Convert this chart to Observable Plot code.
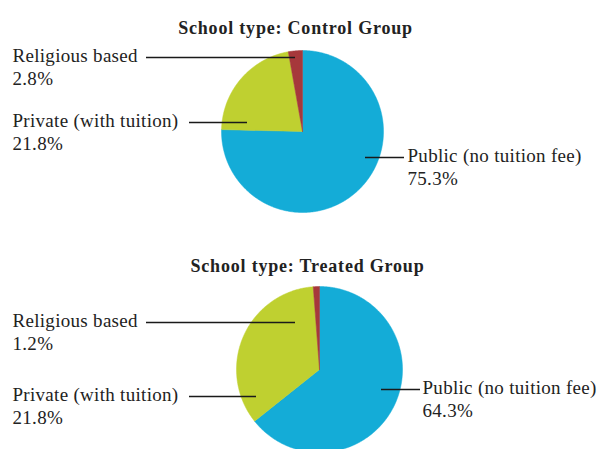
<!DOCTYPE html>
<html>
<head>
<meta charset="utf-8">
<script src="https://cdn.jsdelivr.net/npm/d3@7"></script>
<script src="https://cdn.jsdelivr.net/npm/@observablehq/plot@0.6"></script>
<style>
  html, body { margin: 0; padding: 0; background: #fff; overflow: hidden; }
  svg { display: block; }
</style>
</head>
<body>
<div id="chart"></div>
<script>
// ---- data ----
const categories = ["Public (no tuition fee)", "Private (with tuition)", "Religious based"];
const colors = ["#14acd7", "#bfd030", "#a6383b"];
const controlValues = [75.3, 21.8, 2.8];
const treatedValues = [64.3, 34.5, 1.2];            // slice sizes as drawn
const controlLabels = ["75.3%", "21.8%", "2.8%"];
const treatedLabels = ["64.3%", "21.8%", "1.2%"];   // labels as printed in the source
const titles = ["School type: Control Group", "School type: Treated Group"];

// ---- layout ----
const W = 598, H = 449;
const pies = [
  {title: titles[0], values: controlValues, labels: controlLabels, cx: 302, cy: 131, r: 81, tx: 295, ty: 28,
   ann: [
     {i: 0, tx: 407, ty: 157, x1: 365, x2: 404},
     {i: 1, tx: 12, ty: 122, x1: 189, x2: 247},
     {i: 2, tx: 12, ty: 57, x1: 146, x2: 295}
   ]},
  {title: titles[1], values: treatedValues, labels: treatedLabels, cx: 319, cy: 369, r: 83, tx: 307, ty: 266,
   ann: [
     {i: 0, tx: 422, ty: 389, x1: 381, x2: 420},
     {i: 1, tx: 12, ty: 396, x1: 189, x2: 256},
     {i: 2, tx: 12, ty: 322, x1: 146, x2: 295}
   ]}
];

const slicePts = [];
const annText = [];
const annRules = [];
const titleRows = [];
pies.forEach((p, pi) => {
  const arcs = d3.pie().sort(null).value(d => d)(p.values);
  arcs.forEach((a, i) => {
    const key = pi + "-" + i;
    slicePts.push({key, cat: categories[i], x: p.cx, y: p.cy});
    const n = Math.max(2, Math.ceil((a.endAngle - a.startAngle) / 0.01));
    for (let k = 0; k <= n; k++) {
      const t = a.startAngle + (a.endAngle - a.startAngle) * k / n;
      slicePts.push({key, cat: categories[i], x: p.cx + p.r * Math.sin(t), y: p.cy - p.r * Math.cos(t)});
    }
    slicePts.push({key, cat: categories[i], x: p.cx, y: p.cy});
  });
  p.ann.forEach(a => {
    annText.push({x: a.tx, y: a.ty, text: categories[a.i] + "\n" + p.labels[a.i]});
    annRules.push({x1: a.x1, x2: a.x2, y: a.ty});
  });
  titleRows.push({x: p.tx, y: p.ty, text: p.title});
});

const chart = Plot.plot({
  width: W, height: H,
  margin: 0,
  x: {domain: [0, W], range: [0, W], axis: null},
  y: {domain: [0, H], range: [0, H], axis: null},
  color: {domain: categories, range: colors},
  style: {fontFamily: "'Liberation Serif', serif", background: "#fff"},
  marks: [
    Plot.line(slicePts, {x: "x", y: "y", z: "key", fill: "cat", stroke: "cat", strokeWidth: 0.5, curve: "linear"}),
    Plot.ruleY(annRules, {x1: "x1", x2: "x2", y: "y", stroke: "#1a1a1a", strokeWidth: 1.3}),
    Plot.text(annText, {x: "x", y: "y", text: "text", textAnchor: "start", lineAnchor: "top", dy: -11, lineHeight: 1.18, fontSize: 19, fill: "#222"}),
    Plot.text(titleRows, {x: "x", y: "y", text: "text", textAnchor: "middle", fontSize: 18, fontWeight: "bold", fill: "#222"})
  ]
});
// letter spacing to approximate the wider book-style serif of the source
const textGroups = d3.select(chart).selectAll("g[aria-label='text']");
textGroups.each(function(_, gi) {
  d3.select(this).attr("letter-spacing", gi === 0 ? "0.3px" : "0.8px");
});
document.getElementById("chart").appendChild(chart);
</script>
</body>
</html>
